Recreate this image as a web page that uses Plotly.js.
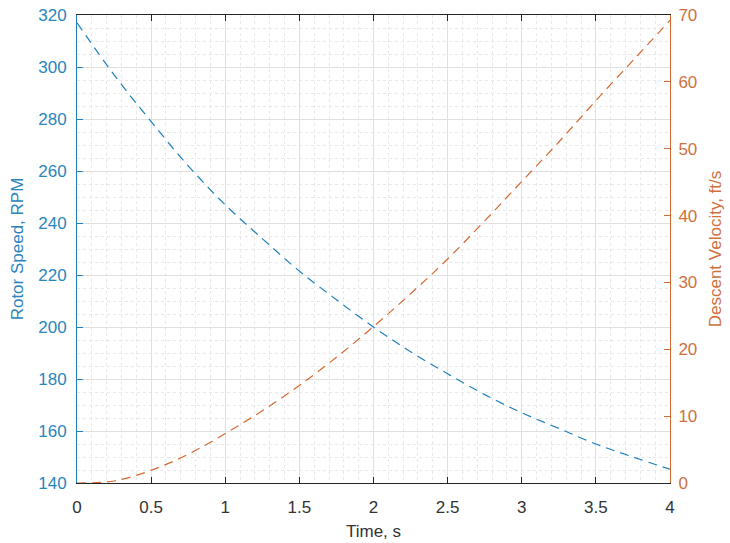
<!DOCTYPE html>
<html>
<head>
<meta charset="utf-8">
<script src="https://cdn.plot.ly/plotly-3.0.1.min.js"></script>
<style>html,body{margin:0;padding:0;background:#fff;}#chart{width:730px;height:543px;}</style>
</head>
<body>
<div id="chart"></div>
<script>
// Time, s
const timeS = [0, 0.25, 0.5, 0.75, 1, 1.25, 1.5, 1.75, 2, 2.25, 2.5, 2.75, 3, 3.25, 3.5, 3.75, 4];
// Rotor speed, RPM (left axis)
const rotorRPM = [317, 297, 279, 262, 247, 234, 221.5, 210.5, 200, 190.5, 182, 174, 167, 161, 155, 150, 145.3];
// Descent velocity, ft/s (right axis)
const descentFtS = [0, 0.3, 1.9, 4.3, 7.4, 10.8, 14.6, 18.8, 23.4, 28.3, 33.5, 39.2, 45.1, 51, 57.2, 63.2, 69.2];

const xTicks = [0, 0.5, 1, 1.5, 2, 2.5, 3, 3.5, 4];
const xTickText = ['0', '0.5', '1', '1.5', '2', '2.5', '3', '3.5', '4'];
const yLeftTicks = [140, 160, 180, 200, 220, 240, 260, 280, 300, 320];
const yRightTicks = [0, 10, 20, 30, 40, 50, 60, 70];

const blue = '#1f80bd', orange = '#d5682f', dark = '#262626';
const blueText = '#2b85bd', orangeText = '#d0703c';
const font = 'Liberation Sans, Arial, sans-serif';

const traces = [
  {x: timeS, y: rotorRPM, type: 'scatter', mode: 'lines', line: {color: blue, width: 1.2, dash: '9px,6px', shape: 'spline'}, yaxis: 'y'},
  {x: timeS, y: descentFtS, type: 'scatter', mode: 'lines', line: {color: orange, width: 1.2, dash: '9px,6px', shape: 'spline'}, yaxis: 'y2'}
];

const layout = {
  width: 730, height: 543,
  margin: {l: 77, r: 60, t: 15, b: 60},
  paper_bgcolor: '#fff', plot_bgcolor: '#fff',
  showlegend: false,
  font: {family: font, size: 17, color: dark},
  xaxis: {
    range: [0, 4], tickvals: xTicks, ticktext: xTickText,
    showline: true, linecolor: dark, linewidth: 1, mirror: 'ticks',
    ticks: 'inside', ticklen: 6, tickcolor: dark, tickwidth: 1,
    ticklabelstandoff: 9,
    showgrid: true, gridcolor: '#e0e0e0', gridwidth: 1,
    minor: {dtick: 0.1, showgrid: true, gridcolor: '#e8e8e8', griddash: 'dot', gridwidth: 1},
    zeroline: false,
    tickfont: {size: 17, color: '#333333'},
    title: {text: 'Time, s', font: {size: 17, color: '#333333'}, standoff: 8}
  },
  yaxis: {
    range: [140, 320], tickvals: yLeftTicks,
    showline: true, linecolor: blue, linewidth: 1,
    ticks: 'inside', ticklen: 6, tickcolor: blue, tickwidth: 1,
    ticklabelstandoff: 6,
    showgrid: true, gridcolor: '#e0e0e0', gridwidth: 1,
    minor: {dtick: 5, showgrid: true, gridcolor: '#e8e8e8', griddash: 'dot', gridwidth: 1},
    zeroline: false,
    tickfont: {size: 17, color: blueText},
    title: {text: 'Rotor Speed, RPM', font: {size: 17, color: blueText}, standoff: 10}
  },
  yaxis2: {
    range: [0, 70], tickvals: yRightTicks,
    overlaying: 'y', side: 'right', anchor: 'x',
    showline: true, linecolor: orange, linewidth: 1,
    ticks: 'inside', ticklen: 6, tickcolor: orange, tickwidth: 1,
    ticklabelstandoff: 4,
    showgrid: false, zeroline: false,
    tickfont: {size: 17, color: orangeText},
    title: {text: 'Descent Velocity, ft/s', font: {size: 17, color: orangeText}, standoff: 12}
  }
};

Plotly.newPlot('chart', traces, layout, {staticPlot: true, displayModeBar: false});
</script>
</body>
</html>
